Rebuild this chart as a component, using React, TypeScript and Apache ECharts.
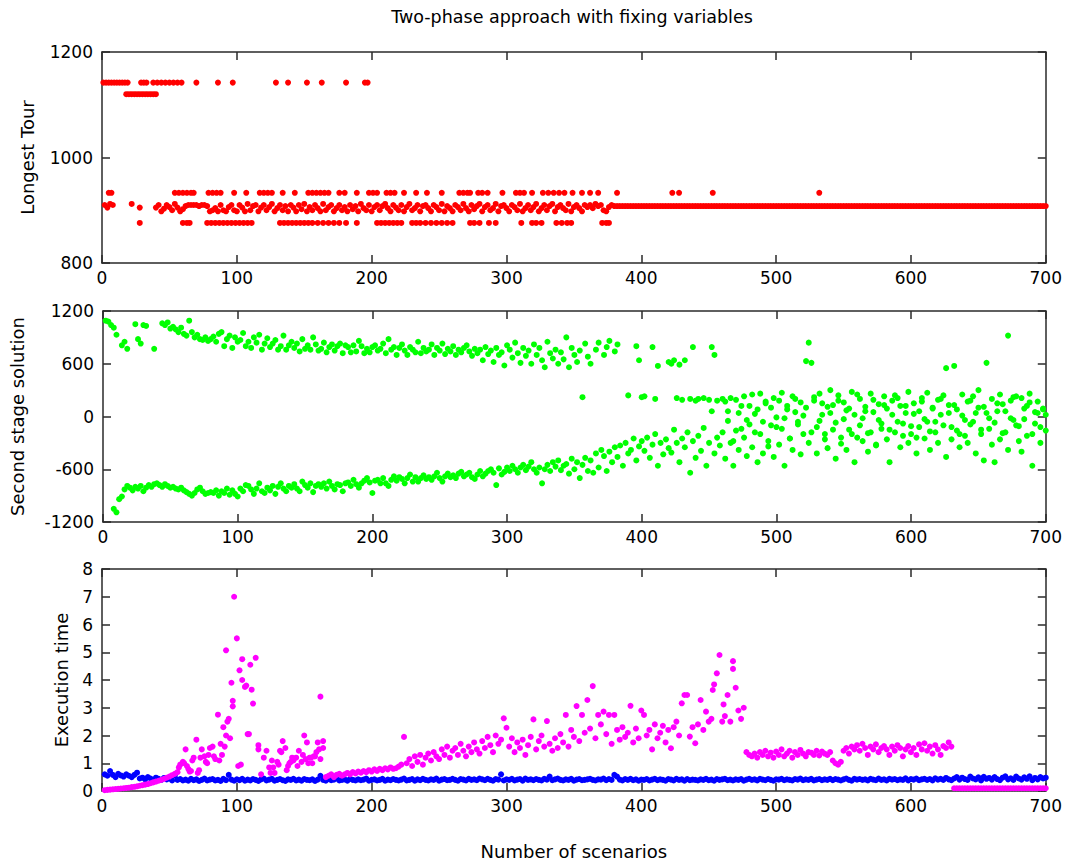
import React, { useEffect, useRef } from "react";
import * as echarts from "echarts";

const STEP = 2;
const FONT = "DejaVu Sans";

// ---------- Panel 1: Longest Tour (red) ----------
// main band, x = start + STEP*i
const redEarlyStart = 2;
const redEarly = [910, 905, 912, 910, null, null, null, null, null, null, 912, null, null, 905, null, null, null, null, null];
const redMidStart = 40;
const redMid = [
  905, 910, 898, 903, 910, 906, 900, 912, 905, 898,
  902, 908, 910, 910, 910, 910, 908, 910, 910, 908,
  898, 900, 904, 898, 910, 900, 898, 906, 910, 900,
  898, 910, 905, 898, 912, 900, 908, 910, 898, 905,
  910, 900, 906, 912, 898, 904, 910, 900, 908, 898,
  910, 905, 898, 910, 902, 912, 898, 906, 900, 910,
  904, 898, 912, 900, 906, 910, 898, 904, 910, 900,
  906, 898, 910, 902, 908, 898, 912, 904, 900, 910,
  898, 906, 910, 900, 908, 912, 904, 898, 910, 905,
  900, 910, 898, 906, 912, 900, 904, 910, 898, 908,
  910, 904, 898, 910, 906, 900, 912, 898, 908, 904,
  898, 910, 906, 900, 912, 904, 898, 910, 902, 908,
  912, 898, 906, 910, 900, 904, 912, 898, 908, 910,
  904, 898, 910, 906, 900, 912, 898, 904, 910, 900,
  906, 912, 898, 904, 910, 900, 908, 912, 898, 906,
  910, 904, 900, 912, 898, 906, 910, 904, 898, 910,
  906, 910, 904, 912, 908, 910, 900, 898, 906, 910,
];
const redLateStart = 380;
const redLate = [
  908, 908, 908, 908, 908, 908, 908, 908, 908, 908,
  908, 908, 908, 908, 908, 908, 908, 908, 908, 908,
  908, 908, 908, 908, 908, 908, 908, 908, 908, 908,
  908, 908, 908, 908, 908, 908, 908, 908, 908, 908,
  908, 908, 908, 908, 908, 908, 908, 908, 908, 908,
  908, 908, 908, 908, 908, 908, 908, 908, 908, 908,
  908, 908, 908, 908, 908, 908, 908, 908, 908, 908,
  908, 908, 908, 908, 908, 908, 908, 908, 908, 908,
  908, 908, 908, 908, 908, 908, 908, 908, 908, 908,
  908, 908, 908, 908, 908, 908, 908, 908, 908, 908,
  908, 908, 908, 908, 908, 908, 908, 908, 908, 908,
  908, 908, 908, 908, 908, 908, 908, 908, 908, 908,
  908, 908, 908, 908, 908, 908, 908, 908, 908, 908,
  908, 908, 908, 908, 908, 908, 908, 908, 908, 908,
  908, 908, 908, 908, 908, 908, 908, 908, 908, 908,
  908, 908, 908, 908, 908, 908, 908, 908, 908, 908,
  908,
];
// other discrete levels: x positions where each level occurs
const redAt1142 = [1, 3, 5, 7, 9, 11, 13, 15, 17, 19, 29, 31, 33, 38, 41, 44, 47, 50, 53, 56, 59, 70, 86, 97, 129, 138, 152, 163, 181, 195, 197];
const redAt1120 = [18, 20, 22, 24, 26, 28, 30, 32, 34, 36, 38, 40];
const redAt933 = [5, 7, 54, 57, 60, 63, 66, 68, 79, 82, 85, 88, 98, 107, 117, 120, 123, 126, 134, 143, 153, 156, 159, 162, 165, 168, 176, 180, 189, 198, 201, 204, 211, 214, 217, 224, 233, 241, 252, 265, 268, 271, 273, 279, 282, 286, 297, 307, 310, 313, 319, 327, 331, 335, 339, 343, 349, 356, 362, 368, 382, 423, 428, 453, 532];
const redAt876 = [28, 60, 63, 65, 78, 81, 84, 87, 90, 93, 96, 99, 102, 105, 108, 111, 132, 135, 138, 141, 144, 147, 150, 153, 156, 160, 164, 168, 172, 176, 181, 189, 204, 207, 210, 213, 216, 219, 222, 230, 233, 236, 240, 244, 248, 252, 256, 260, 273, 276, 280, 287, 292, 311, 319, 322, 326, 337, 341, 345, 348, 371, 374, 376];
const redBandLevels = [1142, 1120, 933, 876];

// ---------- Panel 2: Second stage solution (green), x = 2,4,...,700 ----------
const greenLower = [
  null, null, null, -1050, -1090, -940, -910, -830, -790, -810,
  -840, -800, -820, -790, -850, -810, -780, -800, -770, -760,
  -780, -800, -770, -790, -810, -800, -820, -830, -810, -840,
  -860, -880, -900, -870, -830, -810, -850, -880, -870, -860,
  -870, -840, -900, -850, -870, -820, -890, -840, -880, -910,
  -820, -850, -780, -790, -830, -880, -820, -760, -850, -870,
  -810, -840, -790, -880, -800, -760, -820, -850, -790, -810,
  -770, -820, -850, -740, -780, -810, -760, -860, -790, -770,
  -800, -760, -820, -740, -790, -830, -770, -780, -850, -760,
  -750, -790, -720, -770, -810, -760, -730, -700, -750, -870,
  -730, -720, -760, -700, -760, -790, -720, -680, -730, -690,
  -710, -760, -700, -660, -740, -690, -740, -700, -670, -710,
  -690, -720, -680, -640, -700, -740, -680, -650, -690, -670,
  -700, -650, -630, -680, -660, -640, -690, -710, -660, -620,
  -680, -650, -620, -600, -640, -780, -590, -660, -630, -580,
  -620, -560, -600, -640, -580, -550, -610, -570, -520, -600,
  -640, -580, -760, -600, -550, -620, -520, -570, -500, -610,
  -560, -540, -650, -480, -600, -520, -700, -550, -470, -620,
  -500, -640, -420, -580, -380, -450, -620, -400, -520, -350,
  -460, -330, -560, -300, -420, -380, -250, -500, -340, -280,
  -390, -240, -470, -320, -200, -560, -300, -430, -260, -360,
  -410, -150, -300, -520, -250, -350, -180, -640, -280, -470,
  -220, -390, -130, -560, -300, 60, -420, -240, -330, -180,
  -480, -50, -300, -560, -160, -380, 120, -240, -450, -90,
  -350, 30, -520, -200, -420, 150, -280, -100, -460, -10,
  -320, -140, -560, 80, -250, -380, 200, -60, -430, -200,
  100, -300, -180, 220, -420, -50, 150, -260, -360, 40,
  -150, -480, 180, -240, -30, -380, 90, -200, -520, 250,
  -100, -280, 60, -400, -180, 190, -320, -40, -140, 130,
  -260, -520, 20, -180, 210, -350, -80, 120, -300, -200,
  30, -420, -120, 170, -250, -60, -380, 90, -180, -300,
  200, -100, -460, 40, -260, 130, -160, -350, 10, -220,
  -300, 180, -60, -420, 100, -200, -500, 40, -140, -320,
  -520, 60, -260, 140, -180, -380, -20, 220, -100, -280,
  -400, 90, -220, 160, -560, -80, 40, -300, 80, -160,
];
const greenUpper = [
  1090, 1080, 1040, 1010, 930, null, 810, 850, 770, null,
  null, 1050, 880, 830, 1040, 1030, null, null, 770, null,
  null, 1060, 1040, 1070, 1000, 1020, 990, 960, 1010, 940,
  920, 1090, 960, 900, 930, 880, 870, 900, 860, 880,
  910, 850, 940, 960, 800, 880, 920, 780, 900, 850,
  870, 950, 800, 850, 780, 900, 840, 930, 760, 830,
  890, 790, 830, 870, 760, 800, 920, 760, 810, 850,
  780, 830, 740, 880, 770, 810, 760, 900, 820, 750,
  770, 840, 730, 790, 820, 750, 800, 830, 720, 810,
  790, 730, 810, 740, 860, 800, 720, 770, 730, 790,
  810, 750, 770, 830, 720, 880, 760, 790, 700, 780,
  820, 750, 700, 790, 760, 730, 850, 720, 780, 740,
  760, 820, 700, 780, 750, 830, 710, 770, 740, 800,
  700, 760, 730, 780, 810, 740, 690, 770, 720, 760,
  640, 790, 710, 750, 620, 780, 700, 730, 580, 810,
  760, 670, 840, 720, 610, 780, 690, 750, 600, 820,
  700, 780, 640, 560, 850, 720, 660, 760, 600, 730,
  650, 900, 560, 780, 700, 620, 750, 220, 830, 680,
  600, null, 760, 840, null, 700, 790, 860, null, 740,
  820, null, null, null, 240, null, null, 800, 640, 220,
  230, null, null, 790, 200, 575, null, null, null, 620,
  600, 640, 210, 590, 190, 640, null, 200, 790, 180,
  200, null, 210, null, 190, 790, 700, 180, null, 200,
  170, 60, 210, -280, 190, 40, -140, 230, -40, 120,
  250, -180, 80, 260, -60, 170, -340, 100, 210, -120,
  180, 270, -20, 120, -250, 230, 50, -90, 160, 10,
  630, 840, 610, 180, -120, 260, 20, -200, 110, 300,
  130, -70, 240, -310, 160, 70, -150, 280, 20, -240,
  200, -20, 110, -190, 260, 50, -330, 140, -80, 230,
  90, -150, 180, 240, -60, 120, -220, 40, 280, -110,
  150, -240, 60, 210, -30, 270, -170, 100, -60, 190,
  20, 240, 550, 130, -120, 575, 80, -200, 250, -40,
  170, -90, 230, 40, 300, -150, 110, 610, -20, 200,
  -70, 150, 250, -190, 60, 920, 180, -40, 230, -110,
  210, -30, 120, 260, -200, 50, 170, -120, 90, 20,
];

// ---------- Panel 3: Execution time, x = 2,4,...,700 ----------
const blueTime = [
  0.6, 0.55, 0.72, 0.58, 0.5, 0.62, 0.56, 0.52, 0.6, 0.55,
  0.5, 0.58, 0.66, 0.45, 0.48, 0.42, 0.5, 0.45, 0.4, 0.48,
  0.44, 0.4, 0.47, 0.42, 0.45, 0.38, 0.55, 0.4, 0.43, 0.38,
  0.41, 0.37, 0.44, 0.39, 0.42, 0.36, 0.4, 0.45, 0.38, 0.41,
  0.43, 0.38, 0.4, 0.36, 0.44, 0.39, 0.58, 0.41, 0.37, 0.42,
  0.39, 0.44, 0.37, 0.41, 0.38, 0.43, 0.4, 0.36, 0.42, 0.45,
  0.38, 0.41, 0.44, 0.37, 0.4, 0.43, 0.39, 0.36, 0.42, 0.4,
  0.44, 0.38, 0.41, 0.37, 0.43, 0.4, 0.39, 0.42, 0.36, 0.41,
  0.55, 0.4, 0.37, 0.43, 0.39, 0.41, 0.45, 0.38, 0.4, 0.42,
  0.37, 0.44, 0.4, 0.38, 0.42, 0.39, 0.41, 0.45, 0.37, 0.4,
  0.42, 0.38, 0.4, 0.44, 0.37, 0.41, 0.39, 0.43, 0.4, 0.38,
  0.41, 0.45, 0.38, 0.4, 0.43, 0.37, 0.42, 0.39, 0.44, 0.4,
  0.38, 0.42, 0.4, 0.45, 0.37, 0.41, 0.43, 0.39, 0.4, 0.44,
  0.4, 0.37, 0.43, 0.41, 0.38, 0.44, 0.4, 0.42, 0.39, 0.45,
  0.42, 0.39, 0.44, 0.4, 0.37, 0.43, 0.41, 0.6, 0.38, 0.42,
  0.4, 0.44, 0.38, 0.41, 0.43, 0.37, 0.45, 0.4, 0.42, 0.39,
  0.43, 0.4, 0.38, 0.44, 0.41, 0.52, 0.39, 0.42, 0.45, 0.4,
  0.38, 0.42, 0.4, 0.44, 0.37, 0.41, 0.43, 0.39, 0.4, 0.42,
  0.44, 0.4, 0.38, 0.42, 0.41, 0.45, 0.39, 0.43, 0.4, 0.58,
  0.52, 0.41, 0.38, 0.43, 0.4, 0.44, 0.39, 0.42, 0.37, 0.41,
  0.4, 0.43, 0.38, 0.41, 0.44, 0.39, 0.42, 0.4, 0.37, 0.43,
  0.41, 0.38, 0.44, 0.4, 0.42, 0.37, 0.43, 0.39, 0.41, 0.4,
  0.38, 0.42, 0.4, 0.44, 0.39, 0.41, 0.37, 0.43, 0.4, 0.42,
  0.44, 0.39, 0.41, 0.38, 0.42, 0.4, 0.43, 0.37, 0.41, 0.44,
  0.4, 0.42, 0.38, 0.44, 0.41, 0.39, 0.43, 0.4, 0.37, 0.42,
  0.41, 0.44, 0.39, 0.42, 0.4, 0.38, 0.43, 0.41, 0.45, 0.39,
  0.42, 0.4, 0.44, 0.38, 0.41, 0.43, 0.39, 0.42, 0.4, 0.44,
  0.39, 0.43, 0.41, 0.38, 0.42, 0.45, 0.4, 0.37, 0.44, 0.41,
  0.43, 0.4, 0.42, 0.38, 0.44, 0.41, 0.39, 0.45, 0.4, 0.42,
  0.38, 0.44, 0.41, 0.43, 0.39, 0.42, 0.4, 0.46, 0.38, 0.43,
  0.41, 0.45, 0.39, 0.42, 0.44, 0.4, 0.43, 0.38, 0.46, 0.41,
  0.44, 0.4, 0.47, 0.42, 0.39, 0.45, 0.5, 0.41, 0.48, 0.43,
  0.4, 0.52, 0.45, 0.42, 0.49, 0.38, 0.51, 0.44, 0.47, 0.41,
  0.5, 0.43, 0.39, 0.48, 0.53, 0.42, 0.46, 0.4, 0.52, 0.45,
  0.41, 0.49, 0.44, 0.53, 0.39, 0.47, 0.42, 0.5, 0.45, 0.48,
];
const pinkTime = [
  0.03, 0.04, 0.05, 0.06, 0.07, 0.08, 0.09, 0.1, 0.11, 0.12,
  0.14, 0.15, 0.17, 0.19, 0.21, 0.23, 0.25, 0.28, 0.31, 0.34,
  0.37, 0.4, 0.44, 0.48, 0.52, 0.57, 0.62, 0.68, 0.95, 1.05,
  1.5, 0.8, 0.72, 1.2, 1.85, 0.75, 1.5, 1.25, 1.0, 1.55,
  1.6, 1.15, 2.75, 1.7, 2.3, 5.07, 2.6, 3.9, 7.0, 5.5,
  4.35, 4.75, 3.75, 2.05, 4.55, 3.15, 4.8, 1.65, 0.6, 1.2,
  1.45, 0.85, 1.1, 0.65, 1.05, 1.45, 1.8, 1.55, 0.9, 1.05,
  1.1, 1.2, 1.45, 1.05, 2.0, 1.75, 1.2, 1.0, 1.25, 1.75,
  3.4, 1.8, 0.5, 0.55, 0.6, 0.5, 0.58, 0.62, 0.55, 0.6,
  0.65, 0.6, 0.68, 0.63, 0.7, 0.66, 0.72, 0.68, 0.75, 0.7,
  0.78, 0.72, 0.8, 0.75, 0.82, 0.78, 0.85, 0.8, 0.82, 0.88,
  0.95, 1.95, 1.0, 1.15, 0.9, 1.25, 1.05, 1.3, 0.95, 1.2,
  1.35, 1.1, 1.4, 1.25, 1.15, 1.5, 1.3, 1.6, 1.2, 1.45,
  1.55, 1.3, 1.7, 1.45, 1.25, 1.6, 1.4, 1.75, 1.5, 1.35,
  1.8, 1.55, 1.95, 1.65, 1.4, 2.0, 1.7, 1.85, 2.62, 2.28,
  1.6, 1.9, 1.4, 1.75, 1.55, 1.85, 1.3, 1.65, 1.95, 2.58,
  1.5, 1.8, 2.0, 1.6, 2.52, 1.7, 1.45, 1.9, 1.55, 2.05,
  1.75, 2.74, 1.6, 2.2, 1.95, 3.06, 1.8, 2.74, 2.1, 3.28,
  2.25, 3.78, 1.9, 2.74, 2.4, 2.86, 2.05, 2.74, 1.7, 2.74,
  2.2, 1.85, 2.3, 1.95, 2.1, 3.07, 1.75, 2.25, 1.9, 2.9,
  2.74, 2.0, 2.2, 1.5, 2.4, 1.9, 2.1, 2.35, 1.75, 2.2,
  1.54, 2.3, 2.5, 2.0, 3.16, 3.46, 3.46, 1.96, 2.3, 1.72,
  2.4, 3.28, 2.2, 2.86, 2.5, 2.6, 3.84, 4.24, 4.9, 2.5,
  2.7, 3.46, 2.5, 4.68, 3.72, 2.9, 2.6, 3.0, 1.4, 1.3,
  1.25, 1.35, 1.2, 1.4, 1.3, 1.45, 1.25, 1.38, 1.2, 1.42,
  1.3, 1.5, 1.25, 1.35, 1.45, 1.2, 1.4, 1.3, 1.48, 1.35,
  1.25, 1.4, 1.38, 1.3, 1.45, 1.28, 1.42, 1.35, 1.3, 1.4,
  1.1, 1.0, 0.95, 1.05, 1.45, 1.55, 1.35, 1.6, 1.5, 1.65,
  1.45, 1.7, 1.55, 1.3, 1.6, 1.5, 1.68, 1.4, 1.55, 1.62,
  1.5, 1.3, 1.6, 1.45, 1.65, 1.55, 1.25, 1.5, 1.62, 1.4,
  1.55, 1.3, 1.68, 1.5, 1.72, 1.45, 1.6, 1.35, 1.65, 1.5,
  1.3, 1.62, 1.55, 1.75, 1.6, 0.1, 0.1, 0.1, 0.1, 0.1,
  0.1, 0.1, 0.1, 0.1, 0.1, 0.1, 0.1, 0.1, 0.1, 0.1,
  0.1, 0.1, 0.1, 0.1, 0.1, 0.1, 0.1, 0.1, 0.1, 0.1,
  0.1, 0.1, 0.1, 0.1, 0.1, 0.1, 0.1, 0.1, 0.1, 0.1,
];
const pinkExtra = [
  [57, 0.85], [61, 1.0], [63, 0.9], [65, 0.7], [67, 1.1], [71, 0.65], [73, 1.2], [77, 1.05], [79, 1.3],
  [83, 1.25], [87, 1.1], [89, 1.3], [91, 1.6], [92, 2.0], [93, 2.5], [95, 1.9], [97, 3.25], [97, 3.05],
  [101, 0.9], [103, 0.95], [104, 4.0], [107, 3.8], [109, 2.05], [111, 3.65], [116, 1.5],
  [125, 0.65], [127, 0.85], [131, 0.95], [133, 1.4], [137, 0.75], [139, 1.0], [141, 1.2], [145, 0.9],
  [149, 1.3], [151, 1.15], [153, 1.0], [155, 1.2], [157, 1.25], [159, 1.4], [161, 1.5], [162, 1.15], [164, 1.55],
  [453, 3.64], [461, 3.12], [468, 4.4],
];

const X_MIN = 0, X_MAX = 700, X_INT = 100;

function seq(arr: (number | null)[], start: number) {
  const out: number[][] = [];
  arr.forEach((v, i) => { if (v !== null) out.push([start + STEP * i, v]); });
  return out;
}

const frame = { color: "#2a2a2a", width: 1.5 };
const labelStyle = { fontFamily: FONT, fontSize: 17, color: "#000", formatter: (v: number) => String(v) };
const nameStyle = { fontFamily: FONT, fontSize: 18, color: "#000" };

function xAxes(gridIndex: number, withName: boolean) {
  const base = {
    type: "value", gridIndex, min: X_MIN, max: X_MAX, interval: X_INT,
    axisLine: { show: true, onZero: false, lineStyle: frame },
    axisTick: { show: true, inside: true, length: 8, lineStyle: frame },
    splitLine: { show: false },
  };
  return [
    {
      ...base, position: "bottom",
      axisLabel: { ...labelStyle, margin: 6 },
      ...(withName ? { name: "Number of scenarios", nameLocation: "middle", nameGap: 51, nameTextStyle: nameStyle } : {}),
    },
    { ...base, position: "top", axisLabel: { show: false } },
  ];
}

function yAxes(gridIndex: number, min: number, max: number, interval: number, name: string, nameGap: number) {
  const base = {
    type: "value", gridIndex, min, max, interval,
    axisLine: { show: true, onZero: false, lineStyle: frame },
    axisTick: { show: true, inside: true, length: 8, lineStyle: frame },
    splitLine: { show: false },
  };
  return [
    {
      ...base, position: "left", axisLabel: { ...labelStyle, margin: 9 },
      name, nameLocation: "middle", nameGap, nameRotate: 90,
      nameTextStyle: nameStyle,
    },
    { ...base, position: "right", axisLabel: { show: false } },
  ];
}

function scatter(name: string, data: number[][], color: string, axis: number) {
  return {
    name, type: "scatter", data, xAxisIndex: axis, yAxisIndex: axis,
    symbol: "circle", symbolSize: 6, itemStyle: { color, opacity: 1 },
    silent: true, large: false,
  };
}

export default function App() {
  const ref = useRef<HTMLDivElement>(null);
  useEffect(() => {
    if (!ref.current) return;
    const chart = echarts.init(ref.current, undefined, { renderer: "svg" });
    const redMain = [...seq(redEarly, redEarlyStart), ...seq(redMid, redMidStart), ...seq(redLate, redLateStart)];
    const redBands: number[][] = [];
    [redAt1142, redAt1120, redAt933, redAt876].forEach((xs, k) => xs.forEach((x) => redBands.push([x, redBandLevels[k]])));
    const option = {
      animation: false,
      backgroundColor: "#fff",
      title: {
        text: "Two-phase approach with fixing variables",
        left: 567, top: 3, textAlign: "center",
        textStyle: { fontFamily: FONT, fontSize: 17.5, fontWeight: "normal", color: "#000" },
      },
      grid: [
        { left: 102, top: 52, width: 944, height: 211 },
        { left: 102, top: 311, width: 944, height: 211 },
        { left: 102, top: 569, width: 944, height: 222 },
      ],
      xAxis: [...xAxes(0, false), ...xAxes(1, false), ...xAxes(2, true)],
      yAxis: [
        ...yAxes(0, 800, 1200, 200, "Longest Tour", 66),
        ...yAxes(1, -1200, 1200, 600, "Second stage solution", 77),
        ...yAxes(2, 0, 8, 1, "Execution time", 32),
      ],
      series: [
        scatter("Longest Tour", redMain, "#ff0000", 0),
        scatter("Longest Tour levels", redBands, "#ff0000", 0),
        scatter("Second stage (lower)", seq(greenLower, STEP), "#00ff00", 2),
        scatter("Second stage (upper)", seq(greenUpper, STEP), "#00ff00", 2),
        scatter("Time phase 1", seq(blueTime, STEP), "#0000ff", 4),
        scatter("Time phase 2", seq(pinkTime, STEP), "#ff00ff", 4),
        scatter("Time phase 2 extra", pinkExtra, "#ff00ff", 4),
      ],
    };
    chart.setOption(option as any);
    return () => chart.dispose();
  }, []);
  return (
    <div
      ref={ref}
      style={{ position: "absolute", left: 0, top: 0, width: 1065, height: 866, background: "#fff" }}
    />
  );
}
